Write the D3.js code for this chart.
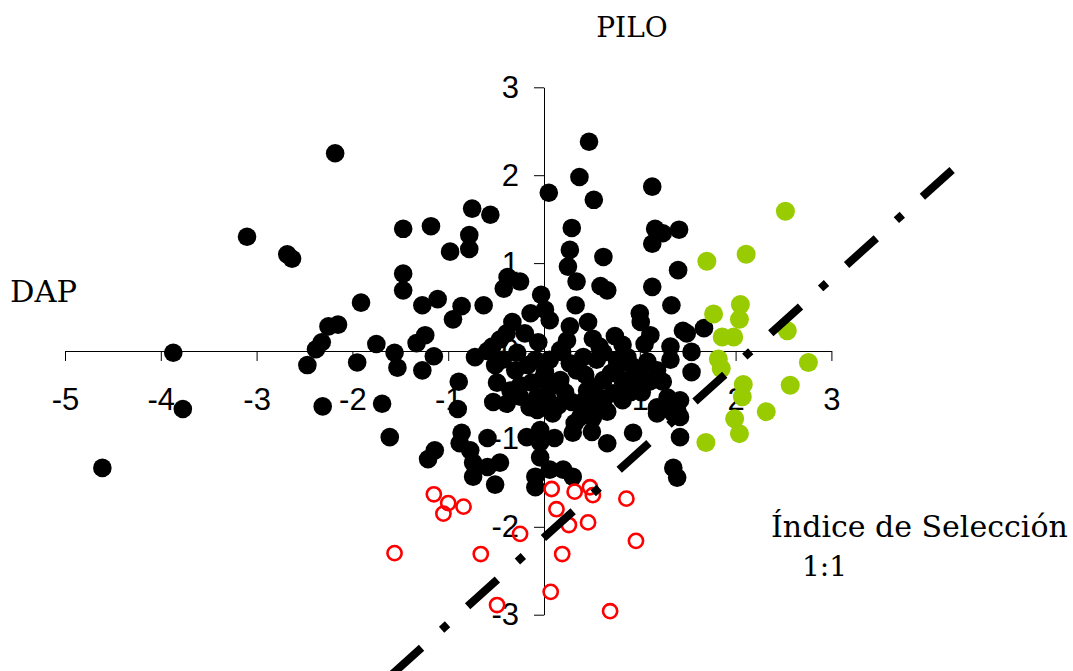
<!DOCTYPE html>
<html><head><meta charset="utf-8">
<script src="https://cdn.jsdelivr.net/npm/d3@7"></script>
<style>body{margin:0;background:#fff} svg{display:block}</style>
</head><body>
<svg id="c" width="1073" height="671"></svg>
<script>
const xTicks = [-5,-4,-3,-2,-1,0,1,2,3];
const yTicks = [-3,-2,-1,0,1,2,3];

const blackX = [-4.61,-3.87,-3.77,-3.10,-2.68,-2.63,-2.47,-2.38,-2.32,-2.31,-2.25,-2.15,-2.18,-1.95,-1.91,-1.75,-1.69,-1.61,-1.56,-1.53,
-1.47,-1.47,-1.47,-1.33,-1.24,-1.27,-1.27,-1.15,-1.18,-1.11,-0.98,-0.95,-0.86,-0.78,-0.78,-0.75,-0.63,-0.56,-0.72,-0.59,
-0.51,-0.43,-0.46,-0.39,-0.28,-0.42,-0.38,-0.25,-0.33,-0.14,-0.03,0.06,0.05,0.01,0.17,0.27,0.29,0.27,0.25,0.34,
0.33,0.37,0.47,0.52,0.62,0.59,0.66,0.46,0.51,0.74,1.00,1.01,1.11,1.13,1.16,1.24,1.41,1.13,1.40,1.13,
1.33,1.45,1.49,1.67,1.54,1.32,1.54,-0.20,-0.06,-0.54,-0.09,0.06,0.19,0.27,0.34,0.41,0.55,0.62,0.76,0.87,
0.93,0.82,1.32,1.18,1.24,-0.89,-0.49,-0.25,-0.13,0.06,-0.53,-0.39,-0.25,-0.15,0.29,0.51,0.62,0.72,0.82,0.90,
0.51,0.66,1.02,1.18,1.32,1.42,-0.90,0.03,-0.07,0.04,0.09,-0.07,0.38,0.51,1.18,1.35,1.29,1.39,1.42,1.42,
-0.86,-0.88,-0.59,-0.18,0.11,0.30,0.50,0.66,0.93,-1.14,-1.21,-0.77,-0.74,-0.59,-0.46,-0.74,-0.51,-0.04,-0.09,-0.09,
0.06,0.20,0.30,1.35,1.39,-0.04,-0.04,0.32,0.57,0.58,0.76,0.82,0.62,1.00,0.43,0.17,0.01,-0.30,-0.17,0.22,
0.95,1.08,0.45,0.70,-0.35,0.15,1.10,0.88,-0.02,0.40,1.05,0.24];
const blackY = [-1.33,-0.02,-0.66,1.30,1.10,1.05,-0.16,0.02,0.10,-0.63,0.28,0.30,2.25,-0.13,0.55,0.08,-0.60,-0.98,-0.02,-0.19,
1.39,0.88,0.69,0.09,0.18,0.52,-0.22,-0.06,1.42,0.59,1.13,0.36,0.51,1.32,1.16,1.62,0.52,1.55,-0.07,0.00,
-0.16,-0.10,0.13,0.20,-0.02,0.71,0.84,0.79,0.33,0.43,0.64,0.35,1.80,0.47,0.01,0.28,1.40,1.15,0.96,0.79,
0.52,1.98,2.38,1.72,1.07,0.74,0.69,0.33,0.14,0.17,0.43,0.33,0.18,1.87,1.39,1.34,1.38,1.22,0.92,0.73,
0.52,0.23,0.20,0.26,-0.01,0.05,-0.24,0.20,0.10,0.05,-0.10,-0.10,-0.01,-0.14,-0.22,-0.07,-0.10,-0.02,-0.10,-0.07,
-0.18,0.07,-0.10,-0.22,-0.35,-0.35,-0.36,-0.39,-0.36,-0.41,-0.58,-0.60,-0.52,-0.64,-0.58,-0.41,-0.56,-0.48,-0.56,-0.47,
-0.67,-0.69,-0.47,-0.64,-0.59,-0.56,-0.66,-0.52,-0.52,-0.64,-0.71,-0.67,-0.75,-0.76,-0.71,-0.71,-0.53,-0.67,-0.75,-0.98,
-0.93,-1.05,-0.99,-0.98,-0.99,-0.93,-0.92,-1.05,-0.93,-1.13,-1.23,-1.13,-1.27,-1.32,-1.27,-1.43,-1.52,-1.21,-1.43,-1.55,
-1.35,-1.35,-1.43,-1.33,-1.44,-0.90,-1.04,-0.82,-0.52,0.05,-0.18,-0.33,-0.33,-0.27,-0.27,-0.33,-0.24,-0.22,-0.16,-0.47,
-0.30,-0.12,-0.45,-0.25,-0.45,-0.62,-0.35,-0.38,-0.32,-0.58,0.08,0.12];

const greenX = [2.52,1.70,2.11,2.05,2.04,1.77,1.86,1.98,2.54,1.82,1.85,2.76,2.08,2.07,2.57,2.32,1.99,2.04,1.69];
const greenY = [1.59,1.02,1.10,0.53,0.36,0.42,0.16,0.16,0.23,-0.09,-0.20,-0.13,-0.38,-0.52,-0.39,-0.69,-0.77,-0.94,-1.04];

const redX = [-1.15,-1.00,-1.05,-0.84,-1.56,-0.66,-0.25,0.08,0.13,0.32,0.48,0.51,0.26,0.46,0.86,0.96,0.19,0.07,-0.49,0.69];
const redY = [-1.63,-1.73,-1.85,-1.77,-2.30,-2.31,-2.08,-1.57,-1.80,-1.60,-1.55,-1.64,-1.98,-1.95,-1.68,-2.16,-2.31,-2.74,-2.89,-2.96];

const lineX = [4.26,-1.71];
const lineY = [2.06,-3.80];

const svg = d3.select("#c");
const x = d3.scaleLinear().domain([-5,3]).range([65,831.4]);
const y = d3.scaleLinear().domain([-3,3]).range([614.7,87.3]);

const sans = "'Liberation Sans', Arial, sans-serif";
const serif = "'DejaVu Serif', serif";

svg.append("g").attr("transform",`translate(0,${y(0)})`)
  .call(d3.axisBottom(x).tickValues(xTicks).tickSize(10).tickSizeOuter(0).tickPadding(27).tickFormat(d=>String(d)))
  .call(g=>{g.selectAll("text").attr("font-family",sans).attr("font-size",31).attr("fill","#000");
            g.selectAll("line,path").attr("stroke","#000");});

svg.append("g").attr("transform",`translate(${x(0)},0)`)
  .call(d3.axisLeft(y).tickValues(yTicks).tickSize(10).tickSizeOuter(0).tickPadding(15).tickFormat(d=>String(d)))
  .call(g=>{g.selectAll("text").attr("font-family",sans).attr("font-size",31).attr("fill","#000");
            g.selectAll("line,path").attr("stroke","#000");});

svg.append("g").selectAll("circle").data(d3.zip(blackX,blackY)).join("circle")
  .attr("cx",d=>x(d[0])).attr("cy",d=>y(d[1])).attr("r",9.3).attr("fill","#000");

svg.append("g").selectAll("circle").data(d3.zip(redX,redY)).join("circle")
  .attr("cx",d=>x(d[0])).attr("cy",d=>y(d[1])).attr("r",7.1).attr("fill","none")
  .attr("stroke","#ff0000").attr("stroke-width",2.6);

svg.append("g").selectAll("circle").data(d3.zip(greenX,greenY)).join("circle")
  .attr("cx",d=>x(d[0])).attr("cy",d=>y(d[1])).attr("r",9.5).attr("fill","#99cc00");

svg.append("path").datum(d3.zip(lineX,lineY))
  .attr("d",d3.line().x(d=>x(d[0])).y(d=>y(d[1])))
  .attr("fill","none").attr("stroke","#000").attr("stroke-width",8)
  .attr("stroke-dasharray","40,27,8,27");

const labels = [
  {t:"PILO", x:632, y:37, s:28, a:"middle"},
  {t:"DAP", x:10, y:302, s:30.5, a:"start"},
  {t:"Índice de Selección", x:771, y:537, s:30, a:"start"},
  {t:"1:1", x:802, y:576, s:28, a:"start"}
];
svg.append("g").selectAll("text").data(labels).join("text")
  .attr("x",d=>d.x).attr("y",d=>d.y).attr("font-size",d=>d.s).attr("text-anchor",d=>d.a)
  .attr("font-family",serif).attr("fill","#000").text(d=>d.t);
</script>
</body></html>
